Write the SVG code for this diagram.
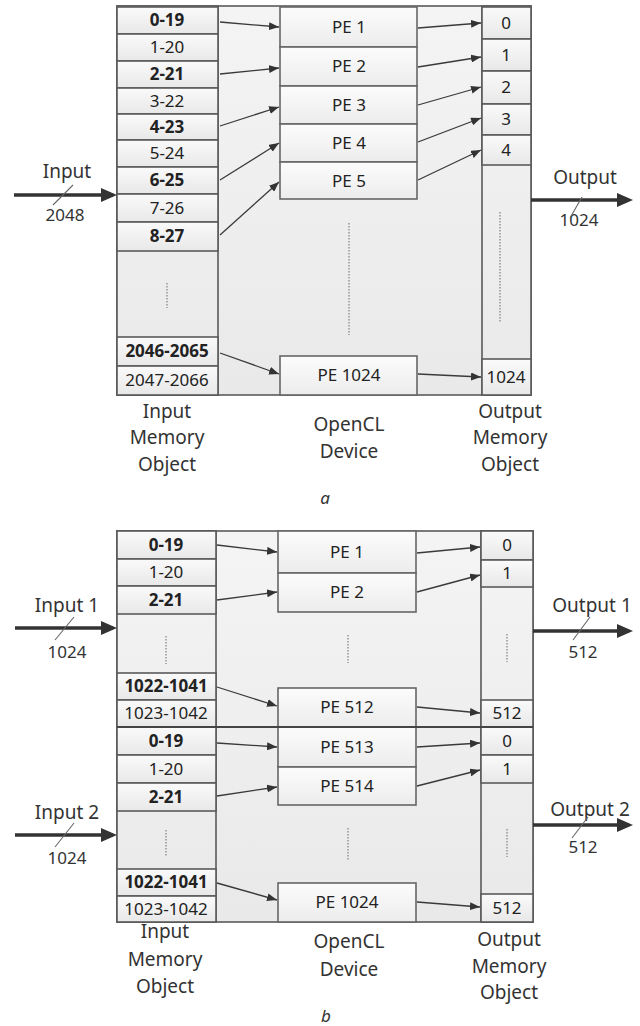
<svg xmlns="http://www.w3.org/2000/svg" width="640" height="1026" viewBox="0 0 640 1026">
<defs>
<linearGradient id="bg" x1="0" y1="0" x2="0" y2="1"><stop offset="0" stop-color="#f4f4f4"/><stop offset="1" stop-color="#e9e9e9"/></linearGradient>
<linearGradient id="cg" x1="0" y1="0" x2="0" y2="1"><stop offset="0" stop-color="#fafafa"/><stop offset="1" stop-color="#e8e8e8"/></linearGradient>
<linearGradient id="pg" x1="0" y1="0" x2="0" y2="1"><stop offset="0" stop-color="#fcfcfc"/><stop offset="1" stop-color="#ececec"/></linearGradient>
<marker id="ah" markerUnits="userSpaceOnUse" markerWidth="10" markerHeight="8" refX="10" refY="4" orient="auto"><path d="M0,0 L10,4 L0,8 z" fill="#333"/></marker>
<marker id="bh" markerUnits="userSpaceOnUse" markerWidth="16" markerHeight="14" refX="12" refY="7" orient="auto"><path d="M0,0 L16,7 L0,14 z" fill="#333"/></marker>
</defs>
<style>
.frame{fill:url(#bg);stroke:#5a5a5a;stroke-width:1.6}
.col{fill:url(#bg);stroke:#5a5a5a;stroke-width:1.6}
.cell{fill:url(#cg);stroke:#5a5a5a;stroke-width:1.6}
.pe{fill:url(#pg);stroke:#666;stroke-width:1.6}
text{font-family:"Noto Sans","Open Sans","Liberation Sans",sans-serif;fill:#222;text-anchor:middle}
.t{font-size:17px}
.b{font-weight:bold}
.lbl{font-size:19px;fill:#333}
.n{font-size:17px;fill:#333}
.dot{stroke:#888;stroke-width:1.3;stroke-dasharray:1.5 1.5;fill:none}
.conn{stroke:#3a3a3a;stroke-width:1.3;fill:none;marker-end:url(#ah)}
.big{stroke:#333;stroke-width:3.5;fill:none;marker-end:url(#bh)}
.sl{stroke:#666;stroke-width:1.1}
.div{stroke:#444;stroke-width:2.2}
</style>

<!-- ===== Part a ===== -->
<g id="a-frame">
<rect class="frame" x="117" y="6" width="414" height="389"/>
<rect class="col" x="117" y="6" width="101" height="389"/>
<rect class="col" x="482" y="6" width="49" height="389"/>
<line class="dot" x1="167" y1="283" x2="167" y2="308"/>
<line class="dot" x1="349" y1="223" x2="349" y2="335"/>
<line class="dot" x1="500" y1="212" x2="500" y2="323"/>
</g>
<g id="a-in">
<rect class="cell" x="117" y="7" width="101" height="27"/><text class="t b" x="167" y="26">0-19</text>
<rect class="cell" x="117" y="34" width="101" height="27"/><text class="t" x="167" y="53">1-20</text>
<rect class="cell" x="117" y="61" width="101" height="27"/><text class="t b" x="167" y="80">2-21</text>
<rect class="cell" x="117" y="88" width="101" height="26"/><text class="t" x="167" y="107">3-22</text>
<rect class="cell" x="117" y="114" width="101" height="26"/><text class="t b" x="167" y="133">4-23</text>
<rect class="cell" x="117" y="140" width="101" height="27"/><text class="t" x="167" y="159">5-24</text>
<rect class="cell" x="117" y="167" width="101" height="27"/><text class="t b" x="167" y="186">6-25</text>
<rect class="cell" x="117" y="194" width="101" height="28"/><text class="t" x="167" y="214">7-26</text>
<rect class="cell" x="117" y="222" width="101" height="29"/><text class="t b" x="167" y="242">8-27</text>
<rect class="cell" x="117" y="337" width="101" height="29"/><text class="t b" x="167" y="357">2046-2065</text>
<rect class="cell" x="117" y="366" width="101" height="29"/><text class="t" x="167" y="386">2047-2066</text>
</g>
<g id="a-pe">
<rect class="pe" x="280" y="7" width="137" height="40"/><text class="t" x="349" y="33">PE 1</text>
<rect class="pe" x="280" y="47" width="137" height="39"/><text class="t" x="349" y="72">PE 2</text>
<rect class="pe" x="280" y="86" width="137" height="38"/><text class="t" x="349" y="111">PE 3</text>
<rect class="pe" x="280" y="124" width="137" height="38"/><text class="t" x="349" y="149">PE 4</text>
<rect class="pe" x="280" y="162" width="137" height="37"/><text class="t" x="349" y="187">PE 5</text>
<rect class="pe" x="280" y="356" width="137" height="39"/><text class="t" x="349" y="381">PE 1024</text>
</g>
<g id="a-out">
<rect class="cell" x="482" y="7" width="49" height="32"/><text class="t" x="506" y="29">0</text>
<rect class="cell" x="482" y="39" width="49" height="32"/><text class="t" x="506" y="61">1</text>
<rect class="cell" x="482" y="71" width="49" height="33"/><text class="t" x="506" y="93">2</text>
<rect class="cell" x="482" y="104" width="49" height="31"/><text class="t" x="506" y="125">3</text>
<rect class="cell" x="482" y="135" width="49" height="30"/><text class="t" x="506" y="156">4</text>
<rect class="cell" x="482" y="359" width="49" height="36"/><text class="t" x="506" y="383">1024</text>
</g>
<g id="a-labels">
<text class="lbl" x="67" y="178">Input</text>
<text class="n" x="65" y="221">2048</text>
<text class="lbl" x="585" y="184">Output</text>
<text class="n" x="579" y="226">1024</text>
<text class="lbl" x="167" y="418">Input</text>
<text class="lbl" x="167" y="444">Memory</text>
<text class="lbl" x="167" y="471">Object</text>
<text class="lbl" x="349" y="431">OpenCL</text>
<text class="lbl" x="349" y="458">Device</text>
<text class="lbl" x="510" y="418">Output</text>
<text class="lbl" x="510" y="444">Memory</text>
<text class="lbl" x="510" y="471">Object</text>
<text class="n" x="325" y="504" font-style="italic">a</text>
</g>

<!-- ===== Part b ===== -->
<g id="b-frame">
<rect class="frame" x="117" y="531" width="416" height="391"/>
<rect class="col" x="117" y="531" width="99" height="391"/>
<rect class="col" x="481" y="531" width="52" height="391"/>
<line class="dot" x1="166" y1="636" x2="166" y2="664"/>
<line class="dot" x1="348" y1="635" x2="348" y2="663"/>
<line class="dot" x1="507" y1="634" x2="507" y2="662"/>
<line class="dot" x1="166" y1="830" x2="166" y2="857"/>
<line class="dot" x1="348" y1="828" x2="348" y2="860"/>
<line class="dot" x1="507" y1="829" x2="507" y2="857"/>
</g>
<g id="b-in1">
<rect class="cell" x="117" y="531" width="99" height="28"/><text class="t b" x="166" y="551">0-19</text>
<rect class="cell" x="117" y="559" width="99" height="27"/><text class="t" x="166" y="578">1-20</text>
<rect class="cell" x="117" y="586" width="99" height="28"/><text class="t b" x="166" y="606">2-21</text>
<rect class="cell" x="117" y="673" width="99" height="27"/><text class="t b" x="166" y="692">1022-1041</text>
<rect class="cell" x="117" y="700" width="99" height="27"/><text class="t" x="166" y="719">1023-1042</text>
</g>
<g id="b-in2">
<rect class="cell" x="117" y="727" width="99" height="28"/><text class="t b" x="166" y="747">0-19</text>
<rect class="cell" x="117" y="755" width="99" height="28"/><text class="t" x="166" y="775">1-20</text>
<rect class="cell" x="117" y="783" width="99" height="28"/><text class="t b" x="166" y="803">2-21</text>
<rect class="cell" x="117" y="869" width="99" height="27"/><text class="t b" x="166" y="888">1022-1041</text>
<rect class="cell" x="117" y="896" width="99" height="26"/><text class="t" x="166" y="915">1023-1042</text>
</g>
<g id="b-pe">
<rect class="pe" x="278" y="531" width="138" height="42"/><text class="t" x="347" y="558">PE 1</text>
<rect class="pe" x="278" y="573" width="138" height="39"/><text class="t" x="347" y="598">PE 2</text>
<rect class="pe" x="278" y="688" width="138" height="39"/><text class="t" x="347" y="713">PE 512</text>
<rect class="pe" x="278" y="727" width="138" height="40"/><text class="t" x="347" y="753">PE 513</text>
<rect class="pe" x="278" y="767" width="138" height="38"/><text class="t" x="347" y="792">PE 514</text>
<rect class="pe" x="278" y="883" width="138" height="39"/><text class="t" x="347" y="908">PE 1024</text>
</g>
<g id="b-out">
<rect class="cell" x="481" y="531" width="52" height="29"/><text class="t" x="507" y="551">0</text>
<rect class="cell" x="481" y="560" width="52" height="27"/><text class="t" x="507" y="579">1</text>
<rect class="cell" x="481" y="700" width="52" height="27"/><text class="t" x="507" y="719">512</text>
<rect class="cell" x="481" y="727" width="52" height="28"/><text class="t" x="507" y="747">0</text>
<rect class="cell" x="481" y="755" width="52" height="28"/><text class="t" x="507" y="775">1</text>
<rect class="cell" x="481" y="894" width="52" height="28"/><text class="t" x="507" y="914">512</text>
<line class="div" x1="117" y1="727" x2="533" y2="727"/>
</g>
<g id="b-labels">
<text class="lbl" x="67" y="612">Input 1</text>
<text class="n" x="67" y="658">1024</text>
<text class="lbl" x="67" y="819">Input 2</text>
<text class="n" x="67" y="864">1024</text>
<text class="lbl" x="592" y="612">Output 1</text>
<text class="n" x="583" y="658">512</text>
<text class="lbl" x="590" y="816">Output 2</text>
<text class="n" x="583" y="853">512</text>
<text class="lbl" x="165" y="938">Input</text>
<text class="lbl" x="165" y="966">Memory</text>
<text class="lbl" x="165" y="993">Object</text>
<text class="lbl" x="349" y="948">OpenCL</text>
<text class="lbl" x="349" y="976">Device</text>
<text class="lbl" x="509" y="946">Output</text>
<text class="lbl" x="509" y="973">Memory</text>
<text class="lbl" x="509" y="999">Object</text>
<text class="n" x="326" y="1022" font-style="italic">b</text>
</g>

<g id="connectors">
<!-- part a: input -> PE -->
<line class="conn" x1="220" y1="22" x2="279" y2="27"/>
<line class="conn" x1="220" y1="74" x2="279" y2="68"/>
<line class="conn" x1="220" y1="126" x2="279" y2="107"/>
<line class="conn" x1="220" y1="180" x2="279" y2="143"/>
<line class="conn" x1="220" y1="235" x2="279" y2="182"/>
<line class="conn" x1="220" y1="353" x2="279" y2="374"/>
<!-- part a: PE -> output -->
<line class="conn" x1="418" y1="28" x2="481" y2="23"/>
<line class="conn" x1="418" y1="67" x2="481" y2="57"/>
<line class="conn" x1="418" y1="105" x2="481" y2="87"/>
<line class="conn" x1="418" y1="142" x2="481" y2="118"/>
<line class="conn" x1="418" y1="180" x2="481" y2="150"/>
<line class="conn" x1="418" y1="374" x2="481" y2="377"/>
<!-- part a: big arrows -->
<line class="big" x1="14" y1="195" x2="113" y2="195"/>
<line class="sl" x1="53" y1="205" x2="73" y2="185"/>
<line class="big" x1="531" y1="200" x2="629" y2="200"/>
<line class="sl" x1="570" y1="218" x2="582" y2="197"/>
<!-- part b: input -> PE -->
<line class="conn" x1="217" y1="545" x2="277" y2="552"/>
<line class="conn" x1="217" y1="600" x2="277" y2="592"/>
<line class="conn" x1="217" y1="687" x2="277" y2="706"/>
<line class="conn" x1="217" y1="743" x2="277" y2="747"/>
<line class="conn" x1="217" y1="796" x2="277" y2="787"/>
<line class="conn" x1="217" y1="883" x2="277" y2="900"/>
<!-- part b: PE -> output -->
<line class="conn" x1="417" y1="553" x2="480" y2="547"/>
<line class="conn" x1="417" y1="592" x2="480" y2="575"/>
<line class="conn" x1="417" y1="707" x2="480" y2="713"/>
<line class="conn" x1="417" y1="747" x2="480" y2="743"/>
<line class="conn" x1="417" y1="786" x2="480" y2="770"/>
<line class="conn" x1="417" y1="902" x2="480" y2="907"/>
<!-- part b: big arrows -->
<line class="big" x1="15" y1="628" x2="113" y2="628"/>
<line class="sl" x1="55" y1="640" x2="74" y2="617"/>
<line class="big" x1="15" y1="835" x2="113" y2="835"/>
<line class="sl" x1="55" y1="847" x2="74" y2="823"/>
<line class="big" x1="533" y1="631" x2="629" y2="631"/>
<line class="sl" x1="573" y1="640" x2="590" y2="617"/>
<line class="big" x1="533" y1="825" x2="629" y2="825"/>
<line class="sl" x1="572" y1="838" x2="588" y2="817"/>
</g>
</svg>
